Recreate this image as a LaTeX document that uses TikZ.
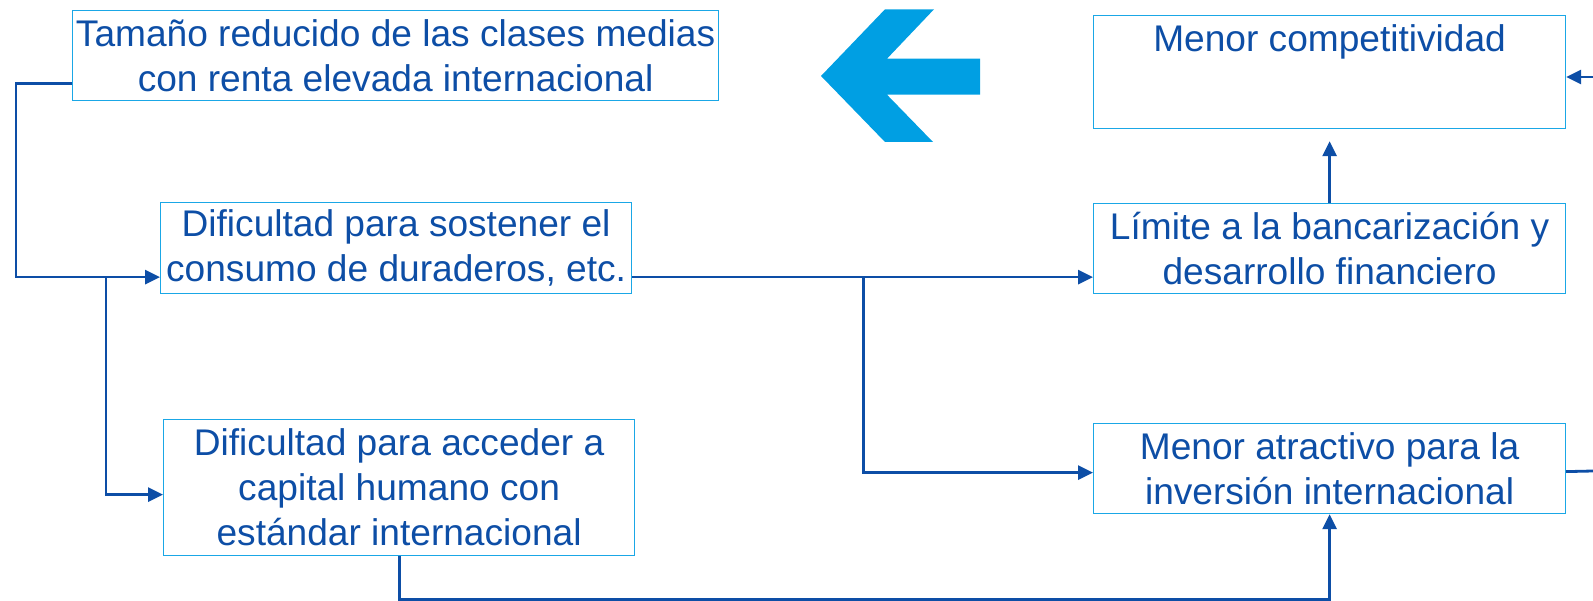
\documentclass[tikz,border=0pt]{standalone}
\usepackage{fontspec}
\setmainfont{Liberation Sans}
\usetikzlibrary{arrows.meta,positioning}
\definecolor{darkblue}{HTML}{0D4EA6}
\definecolor{boxcyan}{HTML}{1AA7E6}
\definecolor{arrowcyan}{HTML}{009FE3}
\tikzset{txt/.style = {text=darkblue, font=\fontsize{37.1}{45}\selectfont},
         box/.style = {txt, draw=boxcyan, line width=1.2pt, fill=white, rectangle, inner sep=0pt, align=center, anchor=north west},
         conn/.style = {draw=darkblue, line width=2.8pt, -{Triangle[length=15pt,width=14pt]}},
         wire/.style = {draw=darkblue, line width=2.8pt}}

\begin{document}
\begin{tikzpicture}[x=1pt,y=-1pt]
        \useasboundingbox (0,0) rectangle (1593,601);

        % left column
        \node[box, minimum width=646, minimum height=90] (tamano) at (72,10) {Tamaño reducido de las clases medias\\con renta elevada internacional};
        \node[box, minimum width=471, minimum height=91] (consumo) at (160,202) {Dificultad para sostener el\\consumo de duraderos, etc.};
        \node[box, minimum width=471, minimum height=136] (capital) at (163,419) {Dificultad para acceder a\\capital humano con\\estándar internacional};

        % right column
        \node[box, minimum width=472, minimum height=113, label={[txt, anchor=north, inner sep=0pt, yshift=-9pt]north:Menor competitividad}] (compet) at (1093,15) {};
        \node[box, minimum width=472, minimum height=90] (banca) at (1093,203) {Límite a la bancarización y\\desarrollo financiero};
        \node[box, minimum width=472, minimum height=90] (inversion) at (1093,423) {Menor atractivo para la\\inversión internacional};

        % big arrow
        \fill[arrowcyan] (821,76) -- (885,9.3) -- (934,9.3) -- (887,58.7) -- (980,58.7) -- (980,94.7)
                -- (887,94.7) -- (933,142) -- (885,142) -- cycle;

        % free ends and junctions
        \coordinate (rin) at (1593,77);
        \coordinate (rout) at (1593,471);
        \coordinate (bot) at (0,599.5);
        \path ([xshift=-54pt,yshift=-29pt]consumo.west) coordinate (j1);
        \path ([xshift=231pt,yshift=-29pt]consumo.east) coordinate (j2);

        \draw[conn] ([yshift=-28pt]tamano.west) -- ++(-56,0) |- ([yshift=-29pt]consumo.west);
        \draw[conn] (j1) |- ([yshift=-7pt]capital.west);
        \draw[conn] ([yshift=-29pt]consumo.east) -- ([yshift=-29pt]consumo.east -| banca.west);
        \draw[conn] (j2) |- ([yshift=-4pt]inversion.west);
        \draw[conn, shorten >=12pt] (banca.north) -- (compet.south);
        \draw[conn] (rin) -- (rin -| compet.east);
        \draw[wire] ([yshift=-3pt]inversion.east) -- (rout);
        \draw[conn] (capital.south) -- (capital.south |- bot) -| (inversion.south);
\end{tikzpicture}
\end{document}
